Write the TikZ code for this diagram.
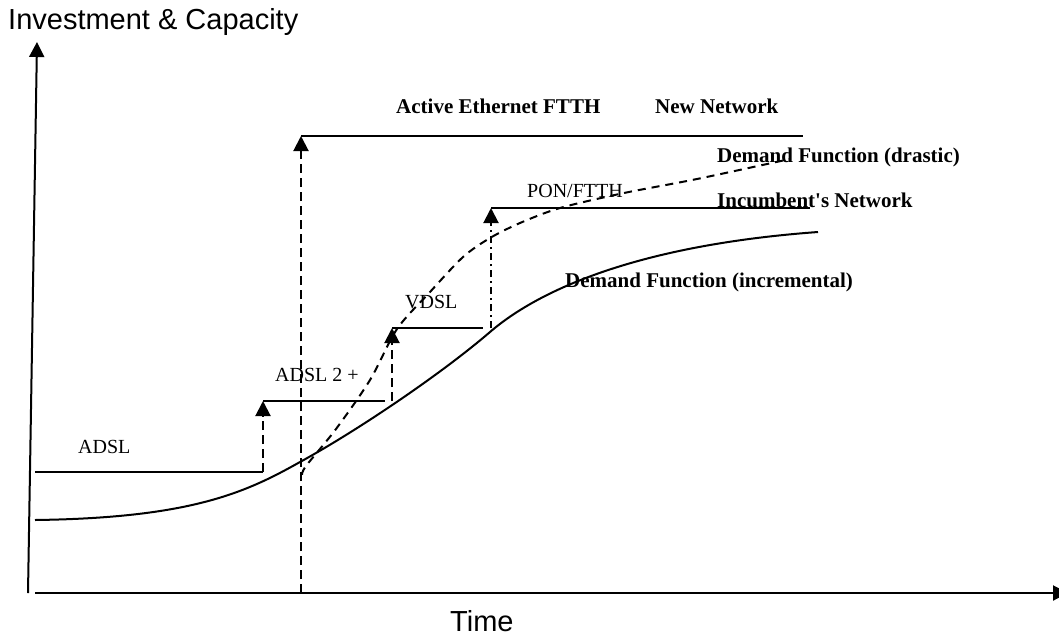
\documentclass[tikz,border=0pt]{standalone}
\usepackage{fontspec}
\newfontfamily\serif{Liberation Serif}
\newfontfamily\arialfont{Liberation Sans}
\usetikzlibrary{arrows.meta}
\begin{document}
\begin{tikzpicture}[x=1pt,y=-1pt,
  ln/.style={line width=2pt},
  tip/.style={-{Triangle[width=15pt,length=15pt]}},
  dsh/.style={ln,dash pattern=on 9pt off 5pt},
  dashdot/.style={ln,dash pattern=on 7pt off 4pt on 2pt off 4pt},
  lbl/.style={inner sep=0pt,anchor=base west,font=\serif\fontsize{20}{24}\selectfont},
  blbl/.style={inner sep=0pt,anchor=base west,font=\serif\bfseries\fontsize{21}{25}\selectfont},
  axlbl/.style={inner sep=0pt,anchor=base west,font=\arialfont\fontsize{29}{33}\selectfont}]
\useasboundingbox (0,0) rectangle (1059,635);
% axes
\coordinate (ybot) at (28,593);
\coordinate (ytop) at (37,42);
\coordinate (xleft) at (35,593);
\coordinate (xright) at (1068,593);
\draw[ln,tip] (ybot) -- (ytop);
\draw[ln,tip] (xleft) -- (xright);
\node[axlbl] (ylab) at (8,29) {Investment \& Capacity};
\node[axlbl] (xlab) at (450,631) {Time};
% step coordinates
\coordinate (a0) at (35,472);
\coordinate (a1) at (263,472);
\coordinate (b0) at (263,401);
\coordinate (b1) at (385,401);
\coordinate (b2) at (392,401);
\coordinate (c0) at (392,328);
\coordinate (c1) at (483,328);
\coordinate (c2) at (491,328);
\coordinate (d0) at (491,208);
\coordinate (d1) at (810,208);
\coordinate (e0) at (301,593);
\coordinate (e1) at (301,136);
\coordinate (e2) at (803,136);
% steps
\draw[ln] (a0) -- (a1);
\draw[dsh,tip] (a1) -- (b0);
\draw[ln] (b0) -- (b1);
\draw[dsh,tip] (b2) -- (c0);
\draw[ln] (c0) -- (c1);
\draw[dashdot,tip] (c2) -- (d0);
\draw[ln] (d0) -- (d1);
\draw[dsh,tip] (e0) -- (e1);
\draw[ln] (e1) -- (e2);
% demand curves
\coordinate (i0) at (35,520);
\coordinate (i1) at (300,462);
\coordinate (i2) at (490,332);
\coordinate (i3) at (818,232);
\draw[ln] (i0) .. controls (190,518) and (245,493) .. (i1)
          .. controls (355,432) and (440,375) .. (i2)
          .. controls (540,289) and (640,245) .. (i3);
\draw[ln,dash pattern=on 8pt off 6pt] plot[smooth] coordinates {(302,475) (306,466) (336,429) (370,380) (397,329) (430,292) (463,257) (490,238) (520,223) (560,208) (624,193) (697,179) (790,159)};
% labels
\node[lbl] (adsl) at (78,453) {ADSL};
\node[lbl] (adsl2) at (275,381) {ADSL 2 +};
\node[lbl] (vdsl) at (405,308) {VDSL};
\node[lbl] (pon) at (527,197) {PON/FTTH};
\node[blbl] (aeth) at (396,113) {Active Ethernet FTTH};
\node[blbl] (newn) at (655,113) {New Network};
\node[blbl] (ddr) at (717,162) {Demand Function (drastic)};
\node[blbl] (inc) at (717,207) {Incumbent's Network};
\node[blbl] (dinc) at (565,287) {Demand Function (incremental)};
\end{tikzpicture}
\end{document}
